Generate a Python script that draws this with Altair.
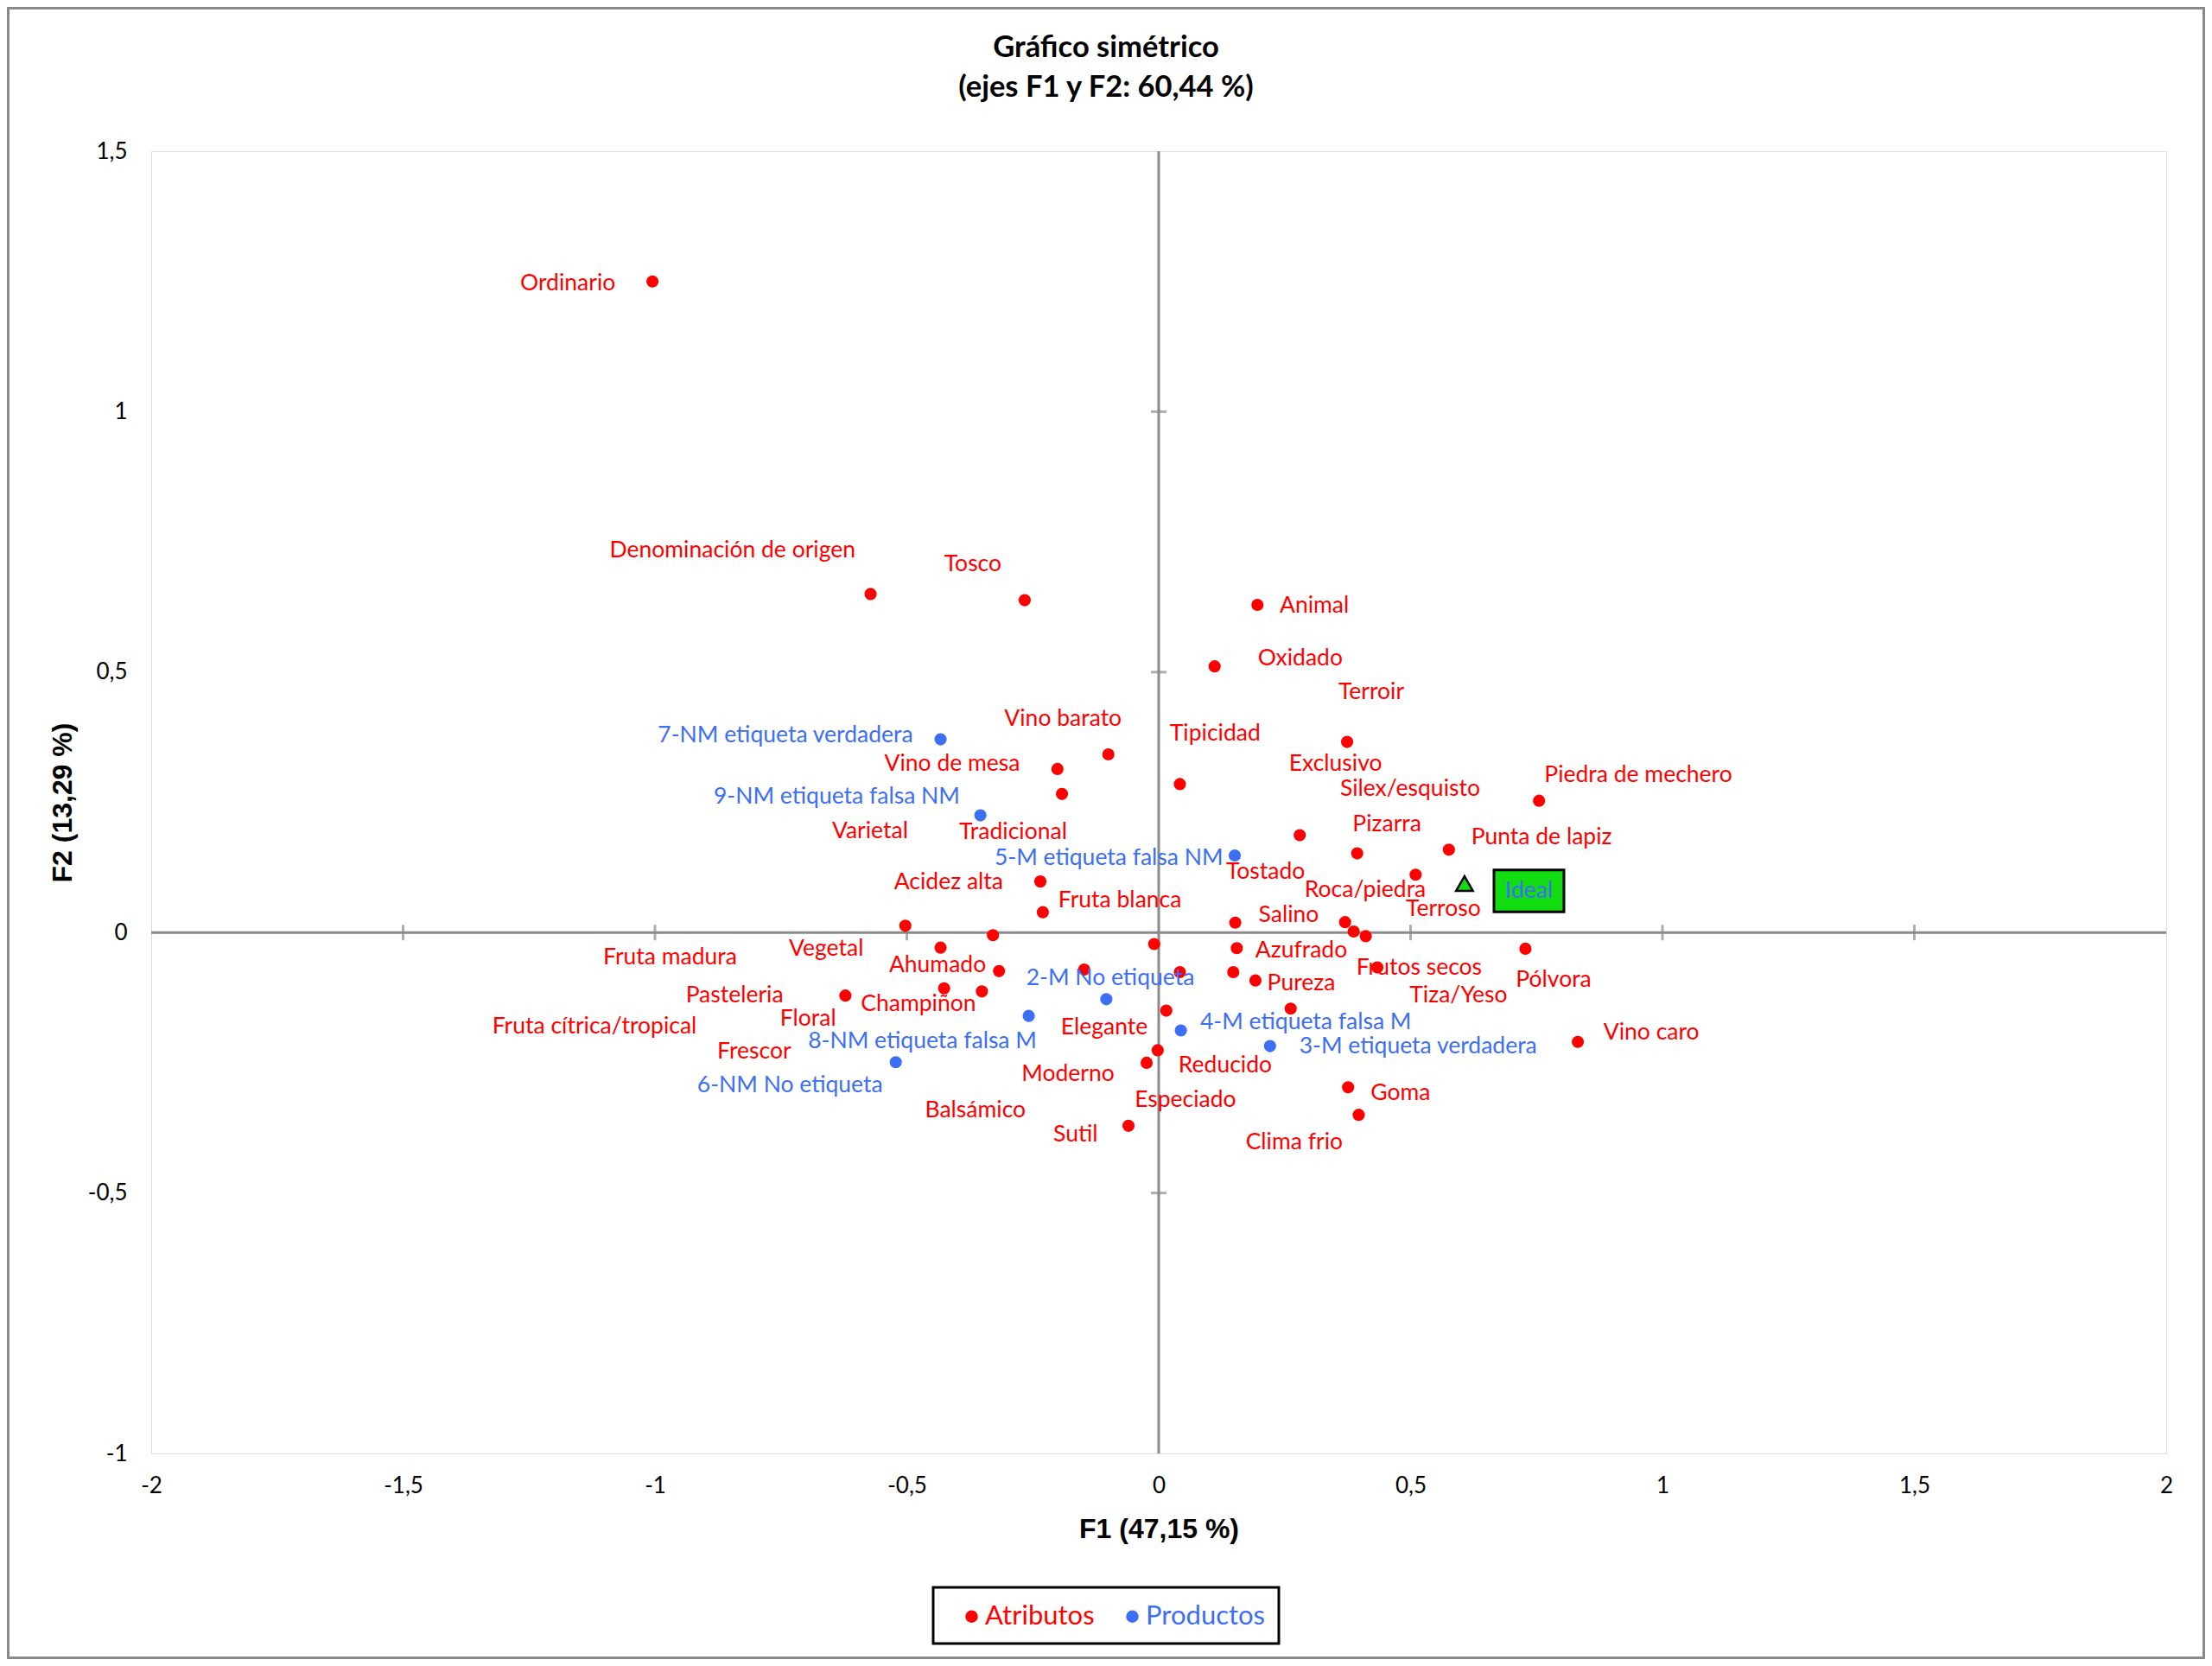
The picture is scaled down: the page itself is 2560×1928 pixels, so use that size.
import altair as alt
import pandas as pd

# ---------------- data ----------------
attr_names = ["Ordinario", "Denominación de origen", "Tosco", "Animal", "Oxidado",
              "Vino barato", "Exclusivo", "Tipicidad", "Vino de mesa", "Tradicional",
              "Piedra de mechero", "Tostado", "Pizarra", "Punta de lapiz", "Roca/piedra",
              "Acidez alta", "Fruta blanca", "Salino", "Silex/esquisto", "Terroir",
              "Terroso", "Varietal", "Vegetal", "Frescor", "Azufrado", "Pólvora",
              "Fruta madura", "Frutos secos", "Balsámico", "Especiado",
              "Fruta cítrica/tropical", "Ahumado", "Pureza", "Champiñon", "Floral",
              "Pasteleria", "Tiza/Yeso", "Elegante", "Reducido", "Moderno", "Vino caro",
              "Goma", "Clima frio", "Sutil"]
attr_f1 = [-1.005, -0.572, -0.266, 0.196, 0.111, -0.100, 0.374, 0.042, -0.201, -0.192,
           0.755, 0.280, 0.394, 0.576, 0.510, -0.235, -0.230, 0.152, 0.370, 0.387,
           0.411, -0.503, -0.329, -0.009, 0.155, 0.728, -0.433, 0.434, -0.148, 0.042,
           0.148, -0.317, 0.192, -0.426, -0.351, -0.622, 0.262, 0.015, -0.002, -0.024,
           0.832, 0.376, 0.397, -0.060]
attr_f2 = [1.250, 0.650, 0.638, 0.629, 0.511, 0.342, 0.366, 0.285, 0.314, 0.266,
           0.253, 0.187, 0.152, 0.159, 0.111, 0.098, 0.039, 0.019, 0.020, 0.002,
           -0.007, 0.013, -0.005, -0.022, -0.030, -0.031, -0.029, -0.067, -0.071, -0.076,
           -0.076, -0.074, -0.092, -0.107, -0.113, -0.121, -0.146, -0.150, -0.226, -0.250,
           -0.210, -0.297, -0.350, -0.371]

prod_names = ["7-NM etiqueta verdadera", "9-NM etiqueta falsa NM", "5-M etiqueta falsa NM",
              "2-M No etiqueta", "4-M etiqueta falsa M", "8-NM etiqueta falsa M",
              "3-M etiqueta verdadera", "6-NM No etiqueta"]
prod_f1 = [-0.433, -0.354, 0.151, -0.104, 0.044, -0.258, 0.221, -0.522]
prod_f2 = [0.371, 0.225, 0.148, -0.128, -0.188, -0.160, -0.218, -0.249]

ideal_name = ["Ideal"]
ideal_f1 = [0.607]
ideal_f2 = [0.094]

x_ticks = [-2, -1.5, -1, -0.5, 0, 0.5, 1, 1.5, 2]
y_ticks = [-1, -0.5, 0, 0.5, 1, 1.5]
cross_x = [-1.5, -1, -0.5, 0.5, 1, 1.5]
cross_y = [-0.5, 0.5, 1]

title_text = "Gráfico simétrico\n(ejes F1 y F2: 60,44 %)"
x_title = "F1 (47,15 %)"
y_title = "F2 (13,29 %)"

# ---------------- label layout (label anchor in axis units) ----------------
attr_lab_f1 = [-1.173, -0.846, -0.369, 0.309, 0.281, -0.190, 0.351, 0.112, -0.410, -0.289,
               0.952, 0.212, 0.453, 0.760, 0.410, -0.417, -0.077, 0.258, 0.499, 0.422,
               0.565, -0.573, -0.660, -0.803, 0.283, 0.784, -0.970, 0.517, -0.364, 0.053,
               -1.120, -0.439, 0.283, -0.477, -0.696, -0.842, 0.595, -0.108, 0.132, -0.180,
               0.978, 0.480, 0.269, -0.165]
attr_lab_f2 = [1.246, 0.734, 0.707, 0.628, 0.526, 0.410, 0.324, 0.382, 0.323, 0.192,
               0.302, 0.117, 0.208, 0.183, 0.082, 0.096, 0.062, 0.034, 0.276, 0.462,
               0.045, 0.195, -0.031, -0.228, -0.035, -0.091, -0.047, -0.067, -0.341, -0.322,
               -0.181, -0.062, -0.098, -0.138, -0.166, -0.120, -0.120, -0.182, -0.255, -0.272,
               -0.192, -0.309, -0.402, -0.388]
prod_lab_f1 = [-0.741, -0.639, -0.099, -0.096, 0.292, -0.469, 0.515, -0.732]
prod_lab_f2 = [0.378, 0.261, 0.143, -0.088, -0.173, -0.208, -0.219, -0.293]
ideal_lab_f1 = [0.735]
ideal_lab_f2 = [0.080]

RED = "#ff0000"
BLUE = "#3c6ef6"
GREEN = "#11dd11"
GRAY = "#8a8a8a"
FONT = "Lato"
LABEL_SIZE = 26.5

W, H = 2332, 1507
PAD = {"left": 167, "top": 167, "right": 45, "bottom": 238}
LEG_BOX = (905, 1662, 1305, 1727)  # legend frame, pixels in the plot group

attrs = pd.DataFrame({"name": attr_names, "f1": attr_f1, "f2": attr_f2,
                      "lx": attr_lab_f1, "ly": attr_lab_f2, "grupo": "Atributos"})
prods = pd.DataFrame({"name": prod_names, "f1": prod_f1, "f2": prod_f2,
                      "lx": prod_lab_f1, "ly": prod_lab_f2, "grupo": "Productos"})
points = pd.concat([attrs, prods], ignore_index=True)
ideal = pd.DataFrame({"name": ideal_name, "f1": ideal_f1, "f2": ideal_f2,
                      "lx": ideal_lab_f1, "ly": ideal_lab_f2})

num_expr = "replace(toString(datum.value), '.', ',')"

xscale = alt.Scale(domain=[-2, 2], nice=False, zero=False)
yscale = alt.Scale(domain=[-1, 1.5], nice=False, zero=False)

xaxis = alt.Axis(values=x_ticks, labelExpr=num_expr, ticks=False, domain=False, grid=False,
                 labelFont=FONT, labelFontSize=26, labelColor="black", labelPadding=24,
                 labelFlush=False, labelOverlap=False, labelBound=False,
                 title=x_title, titleFont="Liberation Sans", titleFontWeight="bold",
                 titleFontSize=32, titleColor="black", titlePadding=22)
yaxis = alt.Axis(values=y_ticks, labelExpr=num_expr, ticks=False, domain=False, grid=False,
                 labelFont=FONT, labelFontSize=26, labelColor="black", labelPadding=28,
                 labelFlush=False, labelOverlap=False, labelBound=False,
                 title=y_title, titleFont="Liberation Sans", titleFontWeight="bold",
                 titleFontSize=32, titleColor="black", titlePadding=12)

one = pd.DataFrame({"a": [0]})

border = alt.Chart(one).mark_rect(
    fillOpacity=0, stroke=GRAY, strokeWidth=3
).encode(
    x=alt.value(-PAD["left"] + 1.5), x2=alt.value(W + PAD["right"] - 1.5),
    y=alt.value(-PAD["top"] + 1.5), y2=alt.value(H + PAD["bottom"] - 1.5)
)

title = alt.Chart(one).mark_text(
    font=FONT, fontSize=34.5, fontWeight="bold", color="black", align="center",
    baseline="middle", lineBreak="\n", lineHeight=46
).encode(x=alt.value(1105), y=alt.value(-119), text=alt.value(title_text))

leg_frame = alt.Chart(one).mark_rect(
    fillOpacity=0, stroke="black", strokeWidth=3
).encode(
    x=alt.value(LEG_BOX[0]), x2=alt.value(LEG_BOX[2]),
    y=alt.value(LEG_BOX[1]), y2=alt.value(LEG_BOX[3])
)

zero_v = alt.Chart(one).mark_rule(color=GRAY, strokeWidth=3).encode(
    x=alt.X("a:Q", scale=xscale, axis=xaxis))
zero_h = alt.Chart(one).mark_rule(color=GRAY, strokeWidth=3).encode(
    y=alt.Y("a:Q", scale=yscale, axis=yaxis))

ticks_x = alt.Chart(pd.DataFrame({"v": cross_x})).mark_tick(
    orient="vertical", size=18, thickness=3, color=GRAY
).encode(x=alt.X("v:Q", scale=xscale, axis=xaxis), y=alt.datum(0, scale=yscale))
ticks_y = alt.Chart(pd.DataFrame({"v": cross_y})).mark_tick(
    orient="horizontal", size=18, thickness=3, color=GRAY
).encode(y=alt.Y("v:Q", scale=yscale, axis=yaxis), x=alt.datum(0, scale=xscale))

legend = alt.Legend(
    title=None, orient="none", legendX=LEG_BOX[0] + 15, legendY=LEG_BOX[1] + 4,
    direction="horizontal",
    labelFont=FONT, labelFontSize=31, symbolType="circle", symbolSize=210,
    symbolStrokeWidth=0, labelOffset=0, columnPadding=28, padding=14,
    labelColor={"expr": "datum.label === 'Atributos' ? '%s' : '%s'" % (RED, BLUE)},
)

dots = alt.Chart(points).mark_circle(size=200, opacity=1).encode(
    x=alt.X("f1:Q", scale=xscale, axis=xaxis),
    y=alt.Y("f2:Q", scale=yscale, axis=yaxis),
    color=alt.Color("grupo:N", scale=alt.Scale(domain=["Atributos", "Productos"], range=[RED, BLUE]),
                    legend=legend),
)

attr_text = alt.Chart(attrs).mark_text(
    font=FONT, fontSize=LABEL_SIZE, align="center", baseline="middle", color=RED
).encode(x=alt.X("lx:Q", scale=xscale, axis=xaxis), y=alt.Y("ly:Q", scale=yscale, axis=yaxis),
         text="name:N")
prod_text = alt.Chart(prods).mark_text(
    font=FONT, fontSize=LABEL_SIZE, align="center", baseline="middle", color=BLUE
).encode(x=alt.X("lx:Q", scale=xscale, axis=xaxis), y=alt.Y("ly:Q", scale=yscale, axis=yaxis),
         text="name:N")

ideal_box = alt.Chart(ideal).mark_point(
    shape="M-1,-0.6L1,-0.6L1,0.6L-1,0.6Z", size=6561, filled=True, fill=GREEN,
    stroke="black", strokeWidth=3, opacity=1, fillOpacity=1
).encode(x=alt.X("lx:Q", scale=xscale, axis=xaxis), y=alt.Y("ly:Q", scale=yscale, axis=yaxis))
ideal_text = alt.Chart(ideal).mark_text(
    font=FONT, fontSize=LABEL_SIZE, align="center", baseline="middle", color=BLUE
).encode(x=alt.X("lx:Q", scale=xscale, axis=xaxis), y=alt.Y("ly:Q", scale=yscale, axis=yaxis),
         text="name:N")
ideal_tri = alt.Chart(ideal).mark_point(
    shape="triangle-up", size=380, filled=True, fill=GREEN, stroke="black",
    strokeWidth=2.5, opacity=1, fillOpacity=1
).encode(x=alt.X("f1:Q", scale=xscale, axis=xaxis), y=alt.Y("f2:Q", scale=yscale, axis=yaxis))

chart = alt.layer(
    border, title, leg_frame, zero_v, zero_h, ticks_x, ticks_y, dots, attr_text, prod_text,
    ideal_box, ideal_text, ideal_tri
).properties(
    width=W, height=H,
    autosize=alt.AutoSizeParams(type="none"),
    padding=PAD,
).configure_view(stroke=GRAY, strokeWidth=3).configure(background="white")

chart.save("out.html", embed_options={"renderer": "svg", "actions": False})
